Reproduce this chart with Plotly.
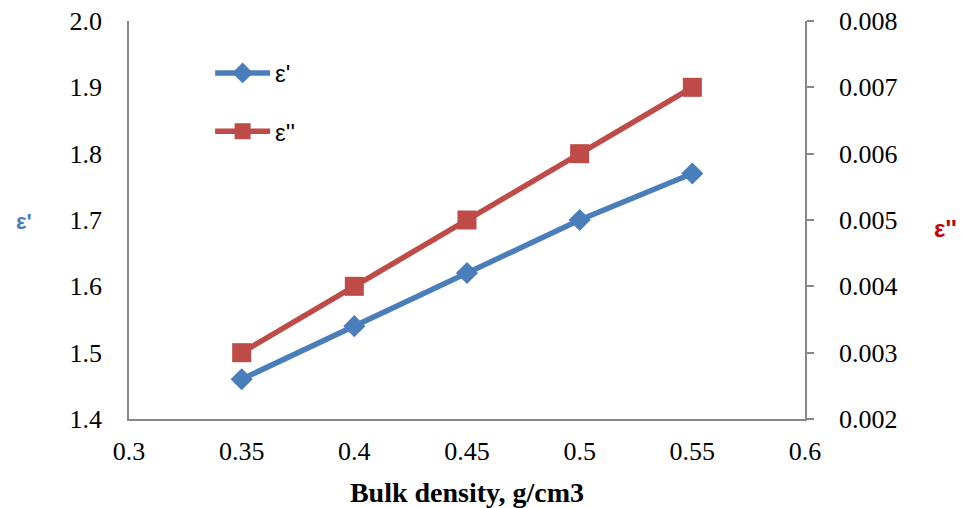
import plotly.graph_objects as go

bulk_density = [0.35, 0.4, 0.45, 0.5, 0.55]
eps_real = [1.46, 1.54, 1.62, 1.70, 1.77]
eps_imag = [0.003, 0.004, 0.005, 0.006, 0.007]

x_ticks = [0.3, 0.35, 0.4, 0.45, 0.5, 0.55, 0.6]
x_tick_labels = ["0.3", "0.35", "0.4", "0.45", "0.5", "0.55", "0.6"]
y1_ticks = [1.4, 1.5, 1.6, 1.7, 1.8, 1.9, 2.0]
y1_tick_labels = ["1.4", "1.5", "1.6", "1.7", "1.8", "1.9", "2.0"]
y2_ticks = [0.002, 0.003, 0.004, 0.005, 0.006, 0.007, 0.008]
y2_tick_labels = ["0.002", "0.003", "0.004", "0.005", "0.006", "0.007", "0.008"]

BLUE = "#4A7EBB"
RED = "#BE4B48"
AXIS = "#888888"
SERIF = "Times New Roman"
SANS = "Arial"

fig = go.Figure()
fig.add_trace(go.Scatter(
    x=bulk_density, y=eps_real, name="ε'", mode="lines+markers",
    line=dict(color=BLUE, width=5.5),
    marker=dict(symbol="diamond", size=17, color=BLUE),
    legendgroup="a", yaxis="y",
))
fig.add_trace(go.Scatter(
    x=bulk_density, y=eps_imag, name="ε''", mode="lines+markers",
    line=dict(color=RED, width=5.5),
    marker=dict(symbol="square", size=19, color=RED),
    legendgroup="b", yaxis="y2",
))

fig.update_layout(
    width=963, height=508,
    margin=dict(l=129, r=158, t=21, b=89, autoexpand=False),
    paper_bgcolor="white", plot_bgcolor="white",
    font=dict(family=SERIF, size=26, color="black"),
    showlegend=True,
    legend=dict(
        x=0.12, y=0.925, xanchor="left", yanchor="top",
        bgcolor="rgba(0,0,0,0)",
        font=dict(family=SANS, size=24, color="black"),
        tracegroupgap=24, itemwidth=55,
    ),
    xaxis=dict(
        range=[0.3, 0.6], tickvals=x_ticks, ticktext=x_tick_labels,
        showgrid=False, zeroline=False, showline=True, linecolor=AXIS, linewidth=1.5,
        ticks="", ticklabelstandoff=8, automargin=False,
        tickfont=dict(family=SERIF, size=26),
        title=dict(text="<b>Bulk density, g/cm3</b>", font=dict(family=SERIF, size=28), standoff=18),
    ),
    yaxis=dict(
        range=[1.4, 2.0], tickvals=y1_ticks, ticktext=y1_tick_labels,
        showgrid=False, zeroline=False, showline=True, linecolor=AXIS, linewidth=1.5,
        ticks="", ticklabelstandoff=20, automargin=False,
        tickfont=dict(family=SERIF, size=26),
    ),
    yaxis2=dict(
        range=[0.002, 0.008], tickvals=y2_ticks, ticktext=y2_tick_labels,
        overlaying="y", side="right",
        showgrid=False, zeroline=False, showline=True, linecolor=AXIS, linewidth=1.5,
        ticks="outside", ticklen=7, tickcolor=AXIS, tickwidth=1.5, ticklabelstandoff=20,
        automargin=False, tickfont=dict(family=SERIF, size=26),
    ),
    annotations=[
        dict(text="<b>ε'</b>", xref="paper", yref="paper", x=-0.17, y=0.495,
             showarrow=False, font=dict(family=SANS, size=22, color=BLUE)),
        dict(text="<b>ε''</b>", xref="paper", yref="paper", x=1.228, y=0.478,
             showarrow=False, font=dict(family=SANS, size=24, color="#C00000")),
    ],
)

fig.write_html("out.html", config={"displayModeBar": False},
               post_script="document.body.style.margin='0';")
